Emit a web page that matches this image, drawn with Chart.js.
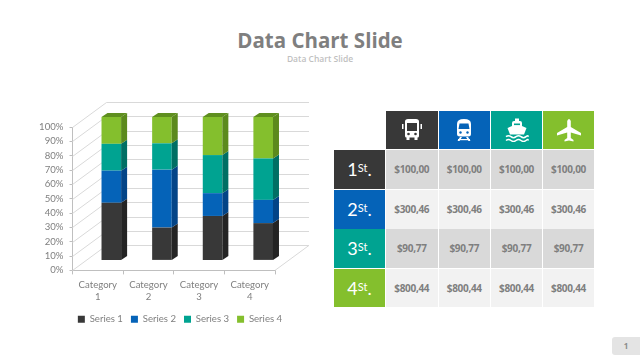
<!DOCTYPE html>
<html>
<head>
<meta charset="utf-8">
<script src="https://cdn.jsdelivr.net/npm/chart.js@4"></script>
<style>
html, body { margin: 0; padding: 0; background: #fff; }
body { width: 640px; height: 360px; position: relative; overflow: hidden; font-family: "Open Sans", sans-serif; }
#title { position: absolute; left: 0; width: 640px; top: 25px; text-align: center; font-size: 20.5px; line-height: 30px; font-weight: 700; color: #7f7f7f; }
#sub { position: absolute; left: 0; width: 640px; top: 52px; text-align: center; font-size: 8.5px; line-height: 13px; font-weight: 600; color: #bfbfbf; }
#wrap { position: absolute; left: 35px; top: 90px; width: 290px; height: 244px; }
.cell { position: absolute; display: flex; align-items: center; justify-content: center; }
.price { font-size: 10px; font-weight: 700; letter-spacing: -0.3px; color: #7f7f7f; }
.rank { font-family: Lato, sans-serif; font-size: 18px; color: #fff; }
.rank sup { font-size: 11px; line-height: 0; position: relative; top: -1px; vertical-align: super; }
#page { position: absolute; left: 612px; top: 337px; width: 28px; height: 18px; background: #e4e4e4; border-radius: 3px 0 0 3px; font-size: 8px; font-weight: 700; color: #8c8c8c; text-align: center; line-height: 18px; }
</style>
</head>
<body>
<div id="title">Data Chart Slide</div>
<div id="sub">Data Chart Slide</div>
<div id="wrap"><canvas id="myChart" width="290" height="244"></canvas></div>
<div id="table"></div>
<div id="page">1</div>
<script>
const categories = ['Category 1', 'Category 2', 'Category 3', 'Category 4'];
const seriesNames = ['Series 1', 'Series 2', 'Series 3', 'Series 4'];
// percent of each stack
const series1 = [40.2, 22.9, 31.0, 26.0];
const series2 = [22.4, 40.4, 15.9, 16.2];
const series3 = [18.7, 18.35, 26.55, 28.9];
const series4 = [18.7, 18.35, 26.55, 28.9];
const yTicks = [0, 10, 20, 30, 40, 50, 60, 70, 80, 90, 100];

const rowLabels = ['1', '2', '3', '4'];
const row1 = ['$100,00', '$100,00', '$100,00', '$100,00'];
const row2 = ['$300,46', '$300,46', '$300,46', '$300,46'];
const row3 = ['$90,77', '$90,77', '$90,77', '$90,77'];
const row4 = ['$800,44', '$800,44', '$800,44', '$800,44'];

const colors = ['#383838', '#0563b8', '#00a391', '#84bf2d'];
const sideColors = ['#242424', '#034487', '#006f64', '#5c8a1d'];
const topColor = '#5f8f1f';
const gridColor = '#d9d9d9';

const icons = [
    // bus
    '<svg width="24" height="24" viewBox="0 0 24 24" fill="#fff"><path d="M5 3.5Q5 1 8 1h8q3 0 3 2.5V18q0 1.5-1.5 1.5v2.5h-3v-2.5h-5V22h-3v-2.5Q5 19.500 5 18z"/><rect x="2" y="6" width="1.500" height="5"/><rect x="20.500" y="6" width="1.500" height="5"/><path fill="#383838" d="M7 5h10v8H7z"/><circle fill="#383838" cx="8.500" cy="16" r="1.300"/><circle fill="#383838" cx="15.500" cy="16" r="1.300"/></svg>',
    // train
    '<svg width="24" height="24" viewBox="0 0 24 24" fill="#fff"><path d="M5 6Q5 1 12 1t7 5v10q0 2.500-3 2.500H8q-3 0-3-2.500z"/><path fill="#0563b8" d="M7.500 5.500h9l1 5.500h-11z"/><circle fill="#0563b8" cx="8.500" cy="14.500" r="1.200"/><circle fill="#0563b8" cx="15.500" cy="14.500" r="1.200"/><path d="M8 19h2l-2.500 4H5.500zM16 19h-2l2.500 4h2z"/><rect x="6" y="21" width="12" height="1.200"/></svg>',
    // ship
    '<svg width="24" height="24" viewBox="0 0 24 24" fill="#fff"><rect x="10" y="0.500" width="4" height="3"/><path d="M7 8V5q0-2 2-2h6q2 0 2 2v3l4.500 2-2.500 6.500H5L2.500 10z"/><rect fill="#00a391" x="9" y="5.500" width="6" height="1.600"/><path fill="none" stroke="#fff" stroke-width="1.500" d="M1 18.700q2.500-2 5 0t5 0 5 0 5 0 2 0M1 22.500q2.500-2 5 0t5 0 5 0 5 0 2 0"/></svg>',
    // plane
    '<svg width="26" height="24" viewBox="0 0 26 24" fill="#fff"><path d="M11.200 3Q13 -1 14.800 3V9L25 15v2.500L14.800 14.500V20l2.700 2v1.500L13 22.500 8.500 23.500V22l2.700-2V14.500L1 17.500V15L11.200 9z"/></svg>'
];

// table, same layout as the reference slide
const colX = [334, 386, 439, 491, 543];
const colW = [51, 51.500, 50.500, 51, 51];
const rowY = [110.500, 150, 189.500, 229, 268.500];
const rowH = [38.500, 38.500, 39, 38.500, 38.500];
const table = document.getElementById('table');

function addCell(col, row, bg, cls, html) {
    const d = document.createElement('div');
    d.className = 'cell ' + cls;
    d.style.cssText = `left:${colX[col]}px;top:${rowY[row]}px;width:${colW[col]}px;height:${rowH[row]}px;background:${bg}`;
    d.innerHTML = html;
    table.appendChild(d);
}

icons.forEach((svg, i) => addCell(i + 1, 0, colors[i], '', svg));
[row1, row2, row3, row4].forEach((row, r) => {
    addCell(0, r + 1, colors[r], 'rank', `${rowLabels[r]}<sup>St</sup>.`);
    row.forEach((price, c) => addCell(c + 1, r + 1, r % 2 ? '#f2f2f2' : '#d9d9d9', 'price', price));
});

// depth of the fake 3d box and of the bars
const wallDx = 34, wallDy = -25;
const barDx = 13.500, barDy = -10;
const sideDx = 6, sideDy = -4;

function poly(ctx, pts, fill) {
    ctx.beginPath();
    ctx.moveTo(pts[0][0], pts[0][1]);
    pts.slice(1).forEach(p => ctx.lineTo(p[0], p[1]));
    ctx.closePath();
    ctx.fillStyle = fill;
    ctx.fill();
}

const box3d = {
    id: 'box3d',
    beforeDatasetsDraw(chart) {
        const ctx = chart.ctx, y = chart.scales.y, a = chart.chartArea;
        ctx.save();
        ctx.strokeStyle = gridColor;
        ctx.lineWidth = 1;
        yTicks.forEach(v => {
            const py = Math.round(y.getPixelForValue(v)) + 0.500;
            ctx.beginPath();
            ctx.moveTo(a.left, py);
            ctx.lineTo(a.left + wallDx, py + wallDy);
            ctx.lineTo(a.right + wallDx, py + wallDy);
            ctx.stroke();
        });
        // right edge of the floor
        ctx.beginPath();
        ctx.moveTo(a.right, a.bottom);
        ctx.lineTo(a.right + wallDx, a.bottom + wallDy);
        ctx.stroke();
        ctx.restore();
        ctx.save();
        ctx.translate(barDx, barDy);
    },
    afterDatasetsDraw(chart) {
        const ctx = chart.ctx;
        chart.data.datasets.forEach((ds, i) => {
            chart.getDatasetMeta(i).data.forEach(bar => {
                const p = bar.getProps(['x', 'y', 'base', 'width'], true);
                const r = p.x + p.width / 2, l = p.x - p.width / 2;
                poly(ctx, [[r, p.y], [r + sideDx, p.y + sideDy], [r + sideDx, p.base + sideDy], [r, p.base]], sideColors[i]);
                if (i === chart.data.datasets.length - 1) {
                    poly(ctx, [[l, p.y], [l + sideDx, p.y + sideDy], [r + sideDx, p.y + sideDy], [r, p.y]], topColor);
                }
            });
        });
        ctx.restore();
    }
};

const myChart = document.getElementById('myChart').getContext('2d');
new Chart(myChart, {
    type: 'bar',
    data: {
        labels: categories,
        datasets: [series1, series2, series3, series4].map((values, i) => ({
            label: seriesNames[i],
            data: values,
            backgroundColor: colors[i],
            borderWidth: 0,
            barPercentage: 0.387,
            categoryPercentage: 1,
            clip: false
        }))
    },
    options: {
        responsive: false,
        animation: false,
        layout: { padding: { top: 37, right: 0, left: 0, bottom: 0 } },
        plugins: {
            tooltip: { enabled: false },
            legend: {
                position: 'bottom',
                labels: {
                    color: '#7f7f7f',
                    font: { family: 'Lato', size: 9.600 },
                    boxWidth: 7,
                    boxHeight: 7,
                    padding: 8
                }
            }
        },
        scales: {
            x: {
                stacked: true,
                afterFit(s) { s.height = 36; },
                grid: { drawOnChartArea: false, tickLength: 4, color: '#bfbfbf' },
                border: { color: '#bfbfbf' },
                ticks: {
                    color: '#7f7f7f',
                    font: { family: 'Lato', size: 9.600, lineHeight: 1.250 },
                    maxRotation: 0,
                    padding: 5,
                    callback(v) { return this.getLabelForValue(v).split(' '); }
                }
            },
            y: {
                stacked: true,
                min: 0,
                max: 100,
                afterFit(s) { s.width = 37.500; },
                grid: { drawOnChartArea: false, tickLength: 3, color: '#bfbfbf' },
                border: { color: '#bfbfbf' },
                ticks: {
                    color: '#7f7f7f',
                    font: { family: 'Lato', size: 9.600 },
                    stepSize: 10,
                    autoSkip: false,
                    padding: 6,
                    callback(v) { return v + '%'; }
                }
            },
            // empty axis, keeps room on the right for the back wall
            spacer: {
                position: 'right',
                afterFit(s) { s.width = 50; },
                grid: { display: false },
                border: { display: false },
                ticks: { display: false }
            }
        }
    },
    plugins: [box3d]
});
</script>
</body>
</html>
